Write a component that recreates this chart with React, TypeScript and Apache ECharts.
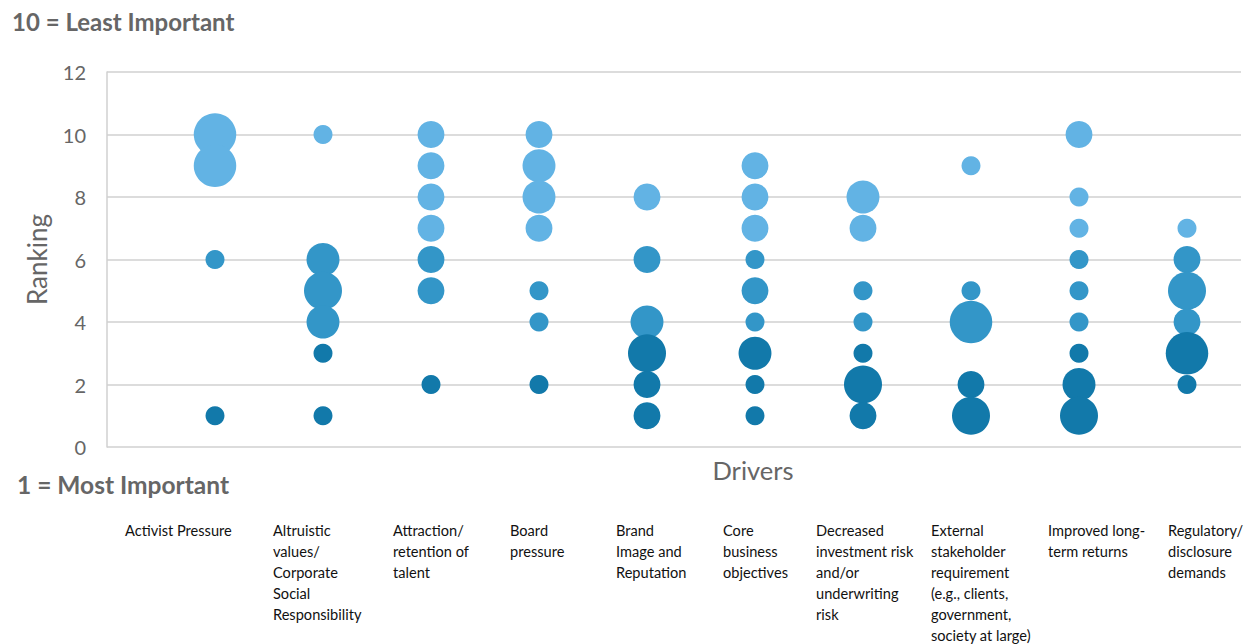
import React, { useEffect, useRef } from "react";
import * as echarts from "echarts";

// Driver names (as printed under the chart)
const drivers = [
  "Activist Pressure",
  "Altruistic\nvalues/\nCorporate\nSocial\nResponsibility",
  "Attraction/\nretention of\ntalent",
  "Board\npressure",
  "Brand\nImage and\nReputation",
  "Core\nbusiness\nobjectives",
  "Decreased\ninvestment risk\nand/or\nunderwriting\nrisk",
  "External\nstakeholder\nrequirement\n(e.g., clients,\ngovernment,\nsociety at large)",
  "Improved long-\nterm returns",
  "Regulatory/\ndisclosure\ndemands",
];

// [ranking, number of responses] for each driver
const activistPressure = [[10, 5], [9, 5], [6, 1], [1, 1]];
const altruisticValues = [[10, 1], [6, 3], [5, 4], [4, 3], [3, 1], [1, 1]];
const attractionTalent = [[10, 2], [9, 2], [8, 2], [7, 2], [6, 2], [5, 2], [2, 1]];
const boardPressure = [[10, 2], [9, 3], [8, 3], [7, 2], [5, 1], [4, 1], [2, 1]];
const brandImage = [[8, 2], [6, 2], [4, 3], [3, 4], [2, 2], [1, 2]];
const coreBusiness = [[9, 2], [8, 2], [7, 2], [6, 1], [5, 2], [4, 1], [3, 3], [2, 1], [1, 1]];
const decreasedRisk = [[8, 3], [7, 2], [5, 1], [4, 1], [3, 1], [2, 4], [1, 2]];
const externalStakeholder = [[9, 1], [5, 1], [4, 5], [2, 2], [1, 4]];
const improvedReturns = [[10, 2], [8, 1], [7, 1], [6, 1], [5, 1], [4, 1], [3, 1], [2, 3], [1, 4]];
const regulatoryDemands = [[7, 1], [6, 2], [5, 4], [4, 2], [3, 5], [2, 1]];

const driverData = [
  activistPressure,
  altruisticValues,
  attractionTalent,
  boardPressure,
  brandImage,
  coreBusiness,
  decreasedRisk,
  externalStakeholder,
  improvedReturns,
  regulatoryDemands,
];

const yTicks = [0, 2, 4, 6, 8, 10, 12];

// Label layout (styling only)
const labelX = [125, 273, 393, 510, 616, 723, 816, 931, 1048, 1168];

const COLORS = { light: "#62B3E4", medium: "#3396C8", dark: "#1279AA" };
const FONT = "Lato, 'Open Sans', sans-serif";
const GRAY = "#666666";

function buildGroup(test: (r: number) => boolean) {
  const out: number[][] = [];
  driverData.forEach((pairs, i) => {
    pairs.forEach(([rank, count]) => {
      if (test(rank)) out.push([i + 1, rank, count]);
    });
  });
  return out;
}

export default function App() {
  const ref = useRef<HTMLDivElement>(null);

  useEffect(() => {
    if (!ref.current) return;
    const chart = echarts.init(ref.current, undefined, { renderer: "svg" });

    const sizeFn = (v: number[]) => 19 * Math.sqrt(v[2]);

    const mkSeries = (name: string, color: string, data: number[][]) => ({
      name,
      type: "scatter",
      data,
      symbolSize: sizeFn,
      itemStyle: { color, opacity: 1 },
      emphasis: { disabled: true },
    });

    const graphics: any[] = [
      {
        type: "text",
        x: 12,
        y: 21,
        style: {
          text: "10 = Least Important",
          fontSize: 24,
          fontWeight: "bold",
          fontFamily: FONT,
          fill: GRAY,
          textAlign: "left",
          textVerticalAlign: "middle",
        },
      },
      {
        type: "text",
        x: 17,
        y: 484,
        style: {
          text: "1 = Most Important",
          fontSize: 24.5,
          fontWeight: "bold",
          fontFamily: FONT,
          fill: GRAY,
          textAlign: "left",
          textVerticalAlign: "middle",
        },
      },
      {
        type: "text",
        x: 753,
        y: 470,
        style: {
          text: "Drivers",
          fontSize: 25.5,
          fontFamily: FONT,
          fill: GRAY,
          textAlign: "center",
          textVerticalAlign: "middle",
        },
      },
    ];
    drivers.forEach((d, i) => {
      graphics.push({
        type: "text",
        x: labelX[i],
        y: 520,
        style: {
          text: d,
          fontSize: 14.6,
          fontFamily: FONT,
          fill: "#111111",
          lineHeight: 21,
          textAlign: "left",
          textVerticalAlign: "top",
        },
      });
    });

    chart.setOption({
      animation: false,
      grid: { left: 107, right: 17, top: 72, bottom: 197, containLabel: false },
      xAxis: {
        type: "value",
        min: 0,
        max: 10.5,
        axisLine: { show: false },
        axisTick: { show: false },
        axisLabel: { show: false },
        splitLine: { show: false },
      },
      yAxis: {
        type: "value",
        min: yTicks[0],
        max: yTicks[yTicks.length - 1],
        interval: 2,
        name: "Ranking",
        nameLocation: "middle",
        nameGap: 57,
        nameTextStyle: { fontSize: 26, color: GRAY, fontFamily: FONT },
        axisLine: { show: true, lineStyle: { color: "#D0D0D0", width: 1.5 } },
        axisTick: { show: false },
        axisLabel: { fontSize: 20, color: GRAY, fontFamily: FONT, margin: 21 },
        splitLine: { show: true, lineStyle: { color: "#D0D0D0", width: 1.5 } },
      },
      series: [
        mkSeries("Low priority", COLORS.light, buildGroup((r) => r >= 7)),
        mkSeries("Mid priority", COLORS.medium, buildGroup((r) => r >= 4 && r <= 6)),
        mkSeries("High priority", COLORS.dark, buildGroup((r) => r <= 3)),
      ],
      graphic: graphics,
    });

    return () => chart.dispose();
  }, []);

  return (
    <div
      ref={ref}
      style={{ position: "fixed", left: 0, top: 0, width: 1258, height: 644, background: "#fff" }}
    />
  );
}
